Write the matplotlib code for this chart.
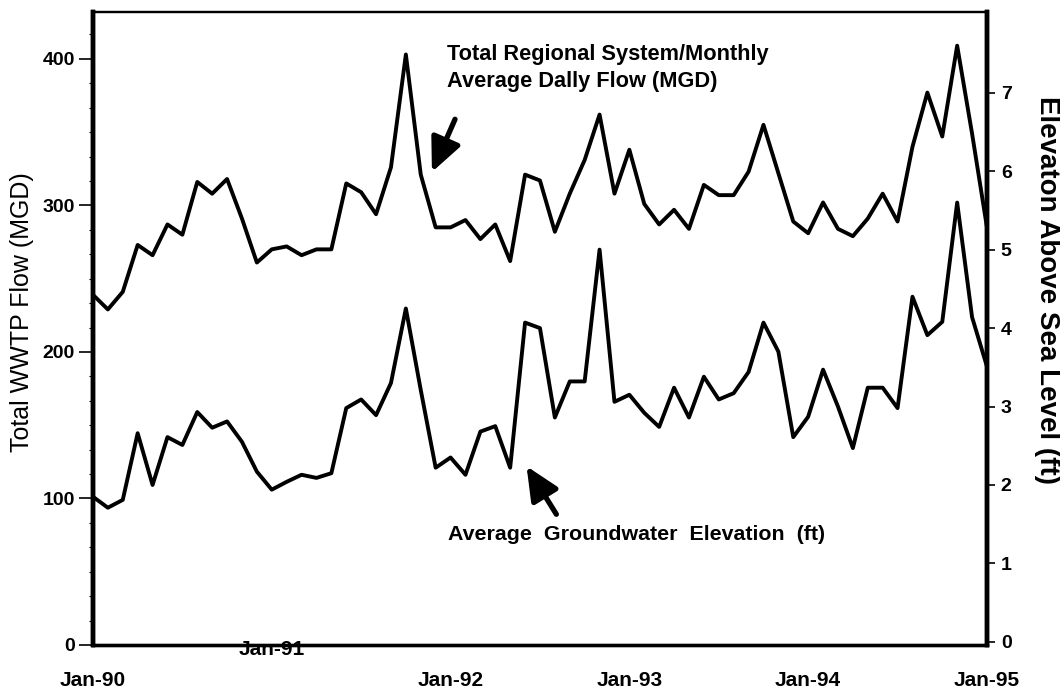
import matplotlib
matplotlib.use("Agg")
import matplotlib.pyplot as plt
import matplotlib.transforms as mtransforms
from matplotlib.ticker import AutoMinorLocator
import numpy as np

plt.rcParams['font.family'] = ['Liberation Sans', 'DejaVu Sans']

### Data (monthly, Jan-90 .. Jan-95)
flow_mgd = [239, 229, 241, 273, 266, 287, 280, 316, 308, 318, 291, 261,
            270, 272, 266, 270, 270, 315, 309, 294, 326, 403, 321, 285,
            285, 290, 277, 287, 262, 321, 317, 282, 308, 331, 362, 308,
            338, 301, 287, 297, 284, 314, 307, 307, 323, 355, 322, 289,
            281, 302, 284, 279, 291, 308, 289, 340, 377, 347, 409, 349,
            285]
gw_ft = [1.85, 1.71, 1.81, 2.66, 2.00, 2.61, 2.51, 2.93, 2.73, 2.81, 2.55, 2.17,
         1.94, 2.04, 2.13, 2.09, 2.15, 2.98, 3.09, 2.89, 3.30, 4.25, 3.21, 2.22,
         2.35, 2.13, 2.68, 2.75, 2.22, 4.07, 4.00, 2.86, 3.32, 3.32, 5.00, 3.06,
         3.15, 2.92, 2.74, 3.24, 2.86, 3.38, 3.09, 3.17, 3.44, 4.07, 3.70, 2.61,
         2.87, 3.47, 3.00, 2.47, 3.24, 3.24, 2.98, 4.40, 3.91, 4.08, 5.60, 4.14,
         3.51]
year_ticks = [0, 12, 24, 36, 48, 60]
year_labels = ['Jan-90', 'Jan-91', 'Jan-92', 'Jan-93', 'Jan-94', 'Jan-95']
left_ticks = [0, 100, 200, 300, 400]
right_ticks = [0, 1, 2, 3, 4, 5, 6, 7]

months = np.arange(len(flow_mgd))

fig = plt.figure(figsize=(10.6, 6.93), dpi=100)
ax = fig.add_axes([0.0877, 0.0693, 0.8434, 0.9134])
ax2 = ax.twinx()

ax.plot(months, flow_mgd, color='black', lw=2.8)
ax2.plot(months, gw_ft, color='black', lw=2.8)

ax.set_xlim(0, 60)
ax.set_ylim(0, 432)
ax2.set_ylim(-0.04, 8.03)

# spines
for a in (ax, ax2):
    a.spines['top'].set_linewidth(1.6)
    a.spines['bottom'].set_linewidth(2.4)
    a.spines['left'].set_linewidth(3.2)
    a.spines['right'].set_linewidth(3.2)

# x axis
ax.set_xticks(year_ticks)
ax.set_xticklabels(year_labels, fontsize=15, fontweight='bold')
ax.tick_params(axis='x', which='major', length=0, pad=19)
ax.set_xticks([24], minor=True)
ax.tick_params(axis='x', which='minor', length=12, width=0.8, direction='out')
lbl = ax.get_xticklabels()[1]
lbl.set_transform(lbl.get_transform() + mtransforms.ScaledTranslation(0, 0.31, fig.dpi_scale_trans))

# left y axis
ax.set_yticks(left_ticks)
ax.set_yticklabels([str(t) for t in left_ticks], fontsize=14, fontweight='bold')
ax.yaxis.set_minor_locator(AutoMinorLocator(6))
ax.tick_params(axis='y', which='major', length=10, width=1.2, direction='out', pad=3)
ax.tick_params(axis='y', which='minor', length=3, width=0.8, direction='out')

# right y axis
ax2.set_yticks(right_ticks)
ax2.set_yticklabels([str(t) for t in right_ticks], fontsize=14, fontweight='bold')
ax2.tick_params(axis='y', length=6, width=1.2, direction='out', pad=4)

# axis titles
fig.text(22 / 1060, 1 - 312 / 693, 'Total WWTP Flow (MGD)', rotation=90,
         ha='center', va='center', fontsize=18)
fig.text(1047 / 1060, 1 - 290 / 693, 'Elevaton Above Sea Level (ft)', rotation=270,
         ha='center', va='center', fontsize=20, fontweight='bold')

# annotations
ax.text(23.76, 399, 'Total Regional System/Monthly', fontsize=15.7, fontweight='bold',
        ha='left', va='baseline')
ax.text(23.76, 380.6, 'Average Dally Flow (MGD)', fontsize=15.7, fontweight='bold',
        ha='left', va='baseline')
ax.text(23.8, 75.6, 'Average  Groundwater  Elevation  (ft)', fontsize=15.4,
        fontweight='bold', ha='left', va='center')

arrow = dict(arrowstyle='-|>,head_length=1.2,head_width=0.55', lw=3.8, color='black',
             shrinkA=0, shrinkB=0, mutation_scale=17)
ax.annotate('', xy=(22.75, 322.8), xytext=(24.3, 358.8), arrowprops=arrow)
ax.annotate('', xy=(29.1, 122), xytext=(31.1, 89.2), arrowprops=arrow)

fig.savefig('out.png', dpi=100)
